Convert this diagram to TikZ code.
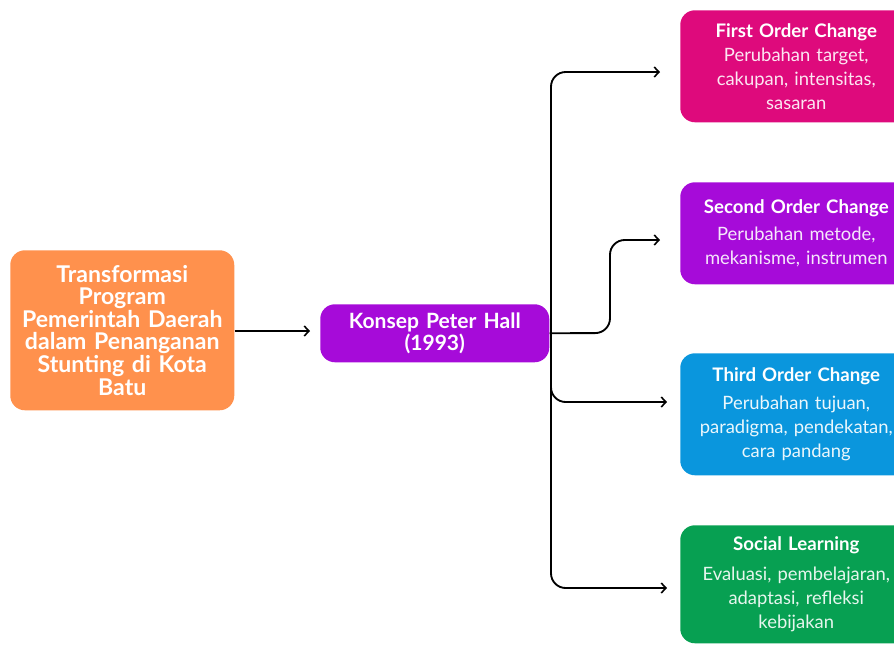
\documentclass[tikz,border=0pt]{standalone}
\usepackage{fontspec}
\setmainfont{Lato}
\usetikzlibrary{arrows.meta}
\definecolor{orangeC}{HTML}{FF914D}
\definecolor{purpleC}{HTML}{A60BD9}
\definecolor{pinkC}{HTML}{DE0A7C}
\definecolor{blueC}{HTML}{0A96DD}
\definecolor{greenC}{HTML}{07A052}
\newcommand{\ttlfont}{\fontsize{14}{18}\selectfont\bfseries}
\newcommand{\bodyfont}{\fontsize{13.8}{18}\selectfont}
\begin{document}
\begin{tikzpicture}[x=0.75pt,y=-0.75pt,
  box/.style={rounded corners=11pt, inner sep=0pt, align=center, text=white, anchor=north west},
  rbox/.style={box, minimum width=174pt, text width=172pt, font=\bodyfont},
  conn/.style={line width=1.4pt, rounded corners=11pt, -{Straight Barb[length=3.5pt,width=7.5pt,line width=1.2pt]}}]
\useasboundingbox (0,0) rectangle (894,644);

\node[box, fill=orangeC, minimum width=168pt, minimum height=120pt, text width=166pt,
  font=\fontsize{17.3}{16.9}\selectfont\bfseries] (src) at (10,250)
  {Transformasi\\Program\\Pemerintah Daerah\\dalam Penanganan\\Stunting di Kota\\Batu};

\node[box, fill=purpleC, minimum width=171.75pt, minimum height=43.5pt, text width=170pt,
  font=\fontsize{15.8}{15}\selectfont\bfseries] (hall) at (320,304)
  {Konsep Peter Hall\\(1993)};

\node[rbox, fill=pinkC, minimum height=84pt, text=white!90!pinkC] (first) at (680,10)
  {{\ttlfont\color{white}First Order Change}\\[0pt]
   Perubahan target,\\cakupan, intensitas,\\sasaran};
\node[rbox, fill=purpleC, minimum height=76.5pt, text=white!90!purpleC] (second) at (680,182)
  {{\ttlfont\color{white}Second Order Change}\\[2.5pt]
   Perubahan metode,\\mekanisme, instrumen};
\node[rbox, fill=blueC, minimum height=91.5pt, text=white!92!blueC] (third) at (680,353)
  {{\ttlfont\color{white}Third Order Change}\\[3.5pt]
   Perubahan tujuan,\\paradigma, pendekatan,\\cara pandang};
\node[rbox, fill=greenC, minimum height=88.5pt, text=white!90!greenC] (social) at (680,525)
  {{\ttlfont\color{white}Social Learning}\\[4.5pt]
   Evaluasi, pembelajaran,\\adaptasi, refleksi\\kebijakan};

\coordinate (j) at (551,333);
\coordinate (hin) at (310,331);
\coordinate (a1) at (660,72);
\coordinate (a2) at (660,240);
\coordinate (a3) at (667,402);
\coordinate (a4) at (667,588);

\draw[conn, rounded corners=0pt] (src.east |- hin) -- (hin);
\draw[conn] (hall.east) -- (610,333) -- (610,240) -- (a2);
\draw[conn] (j) -- (551,72) -- (a1);
\draw[conn] (j) -- (551,402) -- (a3);
\draw[conn] (j) -- (551,588) -- (a4);
\end{tikzpicture}
\end{document}
